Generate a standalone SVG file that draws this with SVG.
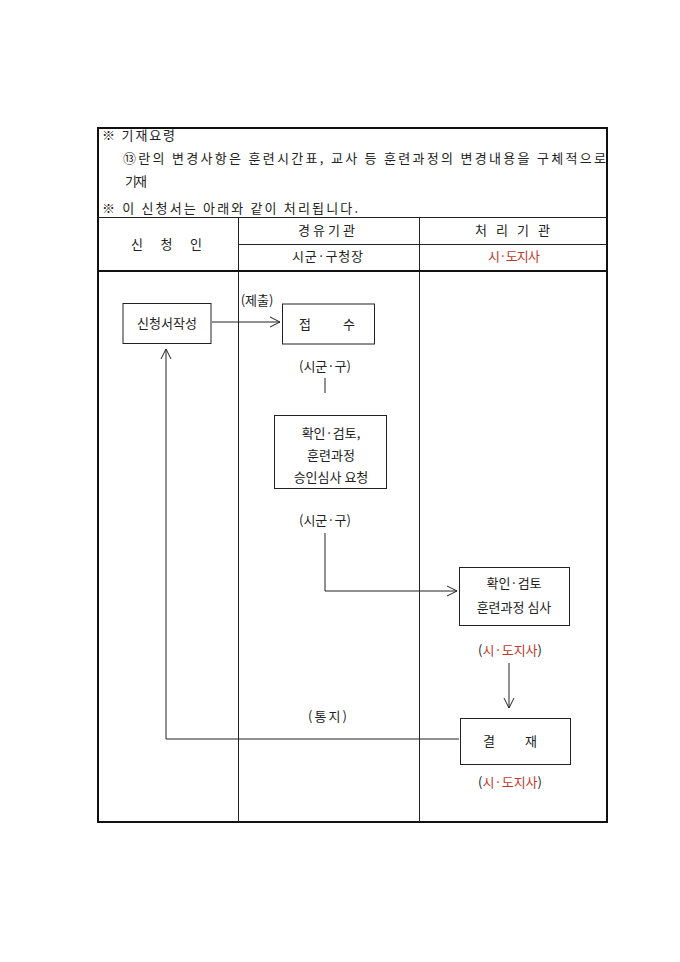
<svg xmlns="http://www.w3.org/2000/svg" width="680" height="962" viewBox="0 0 680 962">
<defs>
<style>
text{font-family:"Noto Sans CJK KR","Noto Sans",sans-serif;font-size:13px;fill:#222;}
.c{text-anchor:middle;}
.r{fill:#c0392b;}
.ln{stroke:#222;stroke-width:1;fill:none;}
.bx{stroke:#222;stroke-width:1;fill:#fff;}
.fr{stroke:#111;stroke-width:2;fill:none;}
</style>
<marker id="ah" viewBox="0 0 12 12" refX="11" refY="6" markerWidth="12" markerHeight="12" markerUnits="userSpaceOnUse" orient="auto">
<path d="M1,1 L11,6 L1,11" fill="none" stroke="#222" stroke-width="1"/>
</marker>
</defs>
<rect width="680" height="962" fill="#fff"/>
<g id="frame">
<rect class="fr" x="98" y="128" width="509" height="694"/>
<line class="ln" x1="98" y1="217.5" x2="607" y2="217.5"/>
<line class="ln" x1="238.5" y1="217" x2="238.5" y2="822"/>
<line class="ln" x1="419.5" y1="217" x2="419.5" y2="822"/>
<line class="ln" x1="238" y1="244.5" x2="607" y2="244.5"/>
<line x1="98" y1="271" x2="607" y2="271" stroke="#111" stroke-width="2"/>
</g>
<g id="notes">
<text x="102" y="140" textLength="73" lengthAdjust="spacing">※ 기재요령</text>
<text x="123" y="163" textLength="483" lengthAdjust="spacing">⑬란의 변경사항은 훈련시간표, 교사 등 훈련과정의 변경내용을 구체적으로</text>
<text x="125" y="186" textLength="22" lengthAdjust="spacing">기재</text>
<text x="102" y="213" textLength="256" lengthAdjust="spacing">※ 이 신청서는 아래와 같이 처리됩니다.</text>
</g>
<g id="headers">
<text x="131" y="249" textLength="71" lengthAdjust="spacing">신 청 인</text>
<text x="298" y="235" textLength="57" lengthAdjust="spacing">경유기관</text>
<text x="475" y="235" textLength="75" lengthAdjust="spacing">처 리 기 관</text>
<text x="292" y="261" textLength="71" lengthAdjust="spacing">시군·구청장</text>
<text class="r" x="488" y="261" textLength="52" lengthAdjust="spacing">시·도지사</text>
</g>
<g id="connectors">
<line class="ln" x1="212" y1="322" x2="280" y2="322" marker-end="url(#ah)"/>
<line class="ln" x1="325" y1="378" x2="325" y2="393"/>
<polyline class="ln" points="325,533 325,591 457,591" marker-end="url(#ah)"/>
<line class="ln" x1="509" y1="663" x2="509" y2="708" marker-end="url(#ah)"/>
<polyline class="ln" points="459,739 166,739 166,349" marker-end="url(#ah)"/>
<text class="c" x="257" y="305">(제출)</text>
<text x="308" y="721" textLength="39" lengthAdjust="spacing">(통지)</text>
</g>
<g id="n-apply">
<rect class="bx" x="123" y="303.5" width="88" height="40"/>
<text class="c" x="167" y="328">신청서작성</text>
</g>
<g id="n-receive">
<rect class="bx" x="282.5" y="304" width="92" height="40"/>
<text x="299" y="329" textLength="56" lengthAdjust="spacing">접 수</text>
<text class="c" x="325" y="371">(시군·구)</text>
</g>
<g id="n-review1">
<rect class="bx" x="274.5" y="415.5" width="112" height="73"/>
<text class="c" x="331" y="438">확인·검토,</text>
<text class="c" x="331" y="460">훈련과정</text>
<text class="c" x="331" y="482">승인심사 요청</text>
<text class="c" x="325" y="525">(시군·구)</text>
</g>
<g id="n-review2">
<rect class="bx" x="459.5" y="567.5" width="110" height="58"/>
<text class="c" x="514" y="588">확인·검토</text>
<text class="c" x="514" y="612">훈련과정 심사</text>
<text class="c" x="510" y="655">(<tspan class="r">시·도지사</tspan>)</text>
</g>
<g id="n-approve">
<rect class="bx" x="460.5" y="718.5" width="110" height="46"/>
<text x="483" y="746" textLength="54" lengthAdjust="spacing">결 재</text>
<text class="c" x="510" y="787">(<tspan class="r">시·도지사</tspan>)</text>
</g>
</svg>
